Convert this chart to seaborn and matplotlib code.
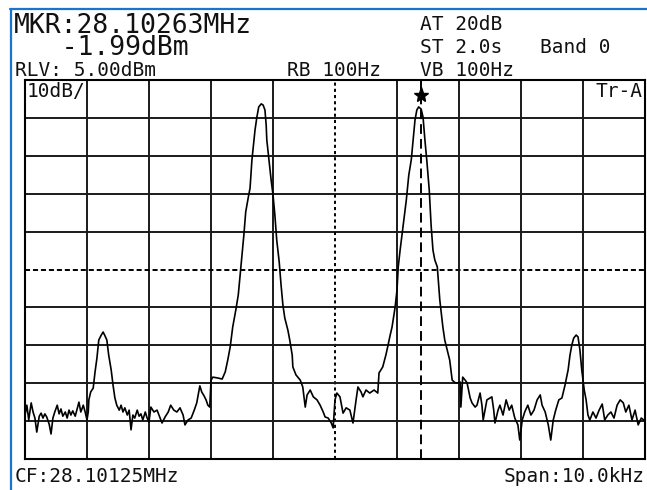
import numpy as np
import pandas as pd
import seaborn as sns
import matplotlib.pyplot as plt
from matplotlib.lines import Line2D
from matplotlib.transforms import blended_transform_factory

# analyzer settings shown on screen
cf_mhz = 28.10125
span_khz = 10.0
rlv_dbm = 5.0
db_per_div = 10
mkr_mhz = 28.10263
mkr_dbm = -1.99
rbw_label = "RB 100Hz"
vbw_label = "VB 100Hz"
att_label = "AT 20dB"
sweep_label = "ST 2.0s"
band_label = "Band 0"
trace_label = "Tr-A"

# trace (offset from CF in kHz, level in dBm)
freq_khz = [
    -5.00, -4.97, -4.94, -4.90, -4.87, -4.84, -4.81, -4.77, -4.74, -4.71,
    -4.68, -4.65, -4.61, -4.58, -4.55, -4.52, -4.48, -4.45, -4.42, -4.39,
    -4.35, -4.32, -4.29, -4.26, -4.23, -4.19, -4.16, -4.13, -4.10, -4.06,
    -4.03, -4.00,
    -3.98, -3.97, -3.94, -3.90, -3.87, -3.84, -3.81, -3.77, -3.74, -3.71,
    -3.68, -3.65, -3.61, -3.58, -3.55, -3.52, -3.48, -3.45, -3.42, -3.39,
    -3.35, -3.32, -3.29, -3.26, -3.23, -3.19, -3.16, -3.13, -3.10, -3.06,
    -3.03, -3.00,
    -2.97, -2.92, -2.87, -2.82, -2.79, -2.74, -2.69, -2.65, -2.60, -2.55,
    -2.50, -2.45, -2.42, -2.37, -2.32, -2.27, -2.23, -2.18, -2.15, -2.11,
    -2.08, -2.05, -2.02, -2.00, -1.97, -1.90, -1.82, -1.77, -1.73, -1.69,
    -1.65, -1.60, -1.56, -1.53, -1.50, -1.47, -1.44, -1.40, -1.37, -1.34,
    -1.32, -1.29, -1.26, -1.23, -1.19, -1.16, -1.13, -1.11, -1.10, -1.06,
    -1.03, -1.00, -0.97, -0.94, -0.90, -0.87, -0.84, -0.81, -0.76, -0.73,
    -0.69, -0.68, -0.63, -0.56, -0.52, -0.48, -0.45, -0.40, -0.35, -0.29,
    -0.24, -0.19, -0.16, -0.11, -0.06, -0.03, 0.00, 0.03, 0.08, 0.13,
    0.18, 0.24, 0.29, 0.34, 0.37, 0.42, 0.45, 0.50, 0.56, 0.63,
    0.69, 0.71, 0.77, 0.82, 0.85, 0.89, 0.92, 0.97, 1.00, 1.02,
    1.05, 1.10, 1.15, 1.19, 1.23, 1.26, 1.29, 1.32, 1.35, 1.39,
    1.42, 1.45, 1.48, 1.52, 1.55, 1.58, 1.61, 1.65, 1.69, 1.74,
    1.77, 1.81, 1.85, 1.89, 1.94, 1.98, 2.02, 2.03, 2.06, 2.10,
    2.13, 2.18, 2.21, 2.26, 2.29, 2.34, 2.37, 2.39, 2.42, 2.45,
    2.50, 2.53, 2.56, 2.58, 2.61, 2.63,
    2.66, 2.71, 2.76, 2.81, 2.85, 2.90, 2.95, 2.98, 3.02, 3.06,
    3.11, 3.16, 3.21, 3.26, 3.31, 3.34, 3.39, 3.44, 3.48, 3.52,
    3.56, 3.61, 3.66, 3.71, 3.76, 3.79, 3.82, 3.85, 3.89, 3.92,
    3.95, 3.98, 4.02, 4.05, 4.08, 4.11, 4.16, 4.21, 4.26, 4.31,
    4.35, 4.40, 4.45, 4.50, 4.55, 4.60, 4.65, 4.69, 4.74, 4.79,
    4.84, 4.89, 4.94, 4.98,
]
level_dbm = [
    -83.4, -80.8, -84.7, -80.2, -82.6, -84.2, -87.9, -83.7, -82.9, -84.2,
    -83.1, -83.9, -85.8, -88.4, -84.2, -82.6, -80.8, -83.1, -81.8, -83.7,
    -82.6, -84.2, -82.1, -83.4, -82.3, -83.7, -81.8, -80.0, -82.6, -80.8,
    -82.6, -84.7,
    -82.6, -79.4, -77.3, -76.3, -72.0, -68.4, -63.6, -62.3, -61.5, -62.5,
    -63.6, -67.6, -71.5, -75.5, -78.9, -80.8, -82.1, -80.8, -82.6, -81.5,
    -83.4, -82.1, -87.3, -83.4, -84.2, -82.1, -83.7, -83.1, -84.7, -82.6,
    -84.2, -85.2,
    -81.3, -82.6, -82.1, -84.2, -85.5, -83.9, -82.6, -80.8, -82.1, -82.6,
    -81.5, -83.4, -86.0, -84.7, -84.2, -82.1, -80.2, -75.7, -77.3, -78.4,
    -79.4, -80.8, -81.3, -74.2, -73.4, -73.6, -73.9, -72.0, -68.9, -65.4,
    -60.2, -55.7, -51.7, -46.5, -41.2, -35.9, -29.8, -26.1, -23.5, -16.1,
    -12.9, -8.2, -4.8, -2.1, -1.3, -1.6, -2.9, -6.9, -10.8, -16.9,
    -21.4, -25.3, -30.6, -37.2, -43.0, -49.1, -54.4, -57.8, -61.0, -63.6,
    -67.6, -70.7, -72.8, -74.2, -76.0, -81.3, -78.1, -76.8, -78.6, -79.4,
    -80.8, -82.6, -83.9, -84.2, -85.5, -86.8, -79.4, -77.6, -78.6, -82.9,
    -81.5, -82.1, -85.5, -79.4, -76.0, -77.3, -78.6, -76.8, -77.6, -76.8,
    -77.6, -72.3, -70.7, -67.6, -65.4, -62.3, -60.2, -54.9, -50.4, -44.3,
    -39.9, -33.3, -26.7, -20.1, -16.1, -10.8, -5.6, -2.9, -2.1, -2.7,
    -4.8, -10.8, -16.1, -24.0, -33.3, -39.9, -42.5, -44.3, -53.0, -60.2,
    -63.6, -66.2, -68.9, -74.2, -74.9, -74.9, -74.7, -81.3, -73.4, -74.2,
    -74.9, -78.9, -80.2, -81.3, -80.8, -77.6, -80.8, -84.7, -82.1, -79.4,
    -78.9, -78.6, -82.1, -85.5, -83.4, -82.1,
    -80.8, -83.4, -79.4, -82.1, -80.8, -84.2, -86.0, -90.0, -84.7, -82.6,
    -80.8, -83.4, -82.1, -79.4, -78.1, -80.8, -82.6, -86.0, -90.0, -84.7,
    -82.1, -79.4, -78.9, -75.5, -71.5, -67.6, -64.9, -63.1, -62.3, -62.8,
    -66.2, -71.5, -76.8, -79.4, -83.4, -84.7, -82.6, -84.2, -82.1, -80.5,
    -84.7, -83.4, -82.6, -84.2, -80.8, -79.4, -80.2, -82.6, -80.8, -84.7,
    -82.1, -86.0, -84.2, -84.7,
]

sns.set_style("white")
plt.rcParams['font.family'] = ['DejaVu Sans Mono']

W, H = 647, 490
fig = plt.figure(figsize=(W / 100, H / 100), dpi=100)
fig.patch.set_facecolor('white')
ax = fig.add_axes([25 / W, 1 - 459 / H, 620 / W, 379 / H])

df = pd.DataFrame({'freq': freq_khz, 'level': level_dbm})
sns.lineplot(data=df, x='freq', y='level', sort=False, estimator=None,
             color='black', lw=1.2, ax=ax, zorder=5)

half = span_khz / 2
ax.set_xlim(-half, half)
ax.set_ylim(rlv_dbm - 10 * db_per_div, rlv_dbm)
ax.set_xticks([])
ax.set_yticks([])
ax.set_xlabel('')
ax.set_ylabel('')
for sp in ax.spines.values():
    sp.set_visible(True)
    sp.set_color('black')
    sp.set_linewidth(1.5)

grid_col = '#1a1a1a'
for i in range(1, 10):
    xv = -half + i * span_khz / 10
    yv = rlv_dbm - i * db_per_div
    if i == 5:
        ax.axvline(xv, color='black', lw=1.4, ls=(0, (1.6, 1.6)), zorder=2)
        ax.axhline(yv, color='black', lw=1.4, ls=(0, (2.6, 1.5)), zorder=2)
    else:
        ax.axvline(xv, color=grid_col, lw=1.4, zorder=2)
        ax.axhline(yv, color=grid_col, lw=1.4, zorder=2)

# marker
mkr_khz = (mkr_mhz - cf_mhz) * 1000
ax.axvline(mkr_khz, color='black', lw=1.4, ls=(0, (5, 2.6)), zorder=3)
tr = blended_transform_factory(ax.transData, ax.transAxes)
ax.plot([mkr_khz], [0.96], marker='*', ms=11, color='black', transform=tr,
        zorder=6, clip_on=False)

# blue frame of the screen
fig.add_artist(Line2D([10.5 / W, 10.5 / W], [0, 1 - 9 / H], color='#1874cd', lw=1.6))
fig.add_artist(Line2D([10 / W, 1], [1 - 9.5 / H, 1 - 9.5 / H], color='#1874cd', lw=1.6))

big = 19
small = 14
tc = '#111111'
fig.text(14 / W, 1 - 55 / H, f"MKR:{mkr_mhz:.5f}MHz\n   {mkr_dbm:.2f}dBm",
         fontsize=big, color=tc, va='baseline', linespacing=0.78)
fig.text(15 / W, 1 - 76 / H, f"RLV: {rlv_dbm:.2f}dBm", fontsize=small, color=tc, va='baseline')
fig.text(287 / W, 1 - 76 / H, rbw_label, fontsize=small, color=tc, va='baseline')
fig.text(420 / W, 1 - 30 / H, att_label, fontsize=small, color=tc, va='baseline')
fig.text(420 / W, 1 - 53 / H, sweep_label, fontsize=small, color=tc, va='baseline')
fig.text(540 / W, 1 - 53 / H, band_label, fontsize=small, color=tc, va='baseline')
fig.text(420 / W, 1 - 76 / H, vbw_label, fontsize=small, color=tc, va='baseline')
fig.text(27 / W, 1 - 97 / H, f"{db_per_div}dB/", fontsize=small, color=tc, va='baseline')
fig.text(642 / W, 1 - 97 / H, trace_label, fontsize=small, color=tc, va='baseline', ha='right')
fig.text(15 / W, 1 - 482 / H, f"CF:{cf_mhz:.5f}MHz", fontsize=small, color=tc, va='baseline')
fig.text(645 / W, 1 - 482 / H, f"Span:{span_khz:.1f}kHz", fontsize=small, color=tc,
         va='baseline', ha='right')

fig.savefig('out.png', dpi=100)
